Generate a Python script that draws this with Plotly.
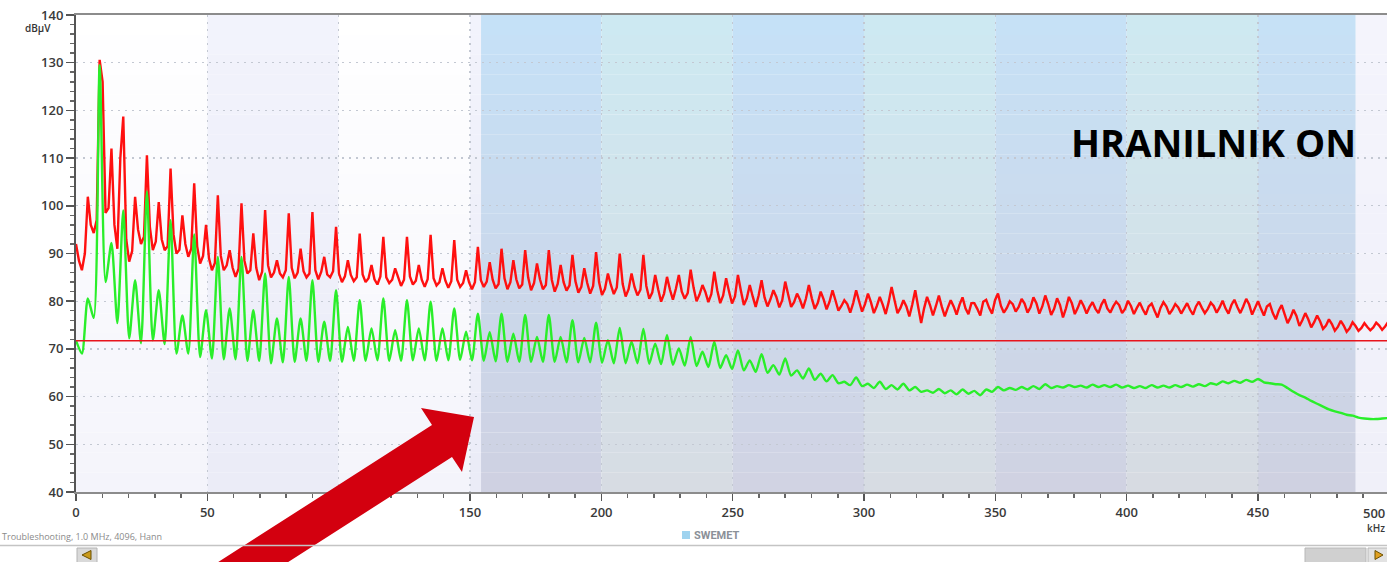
import plotly.graph_objects as go

# ---------------- data ----------------
# Spectrum sampled at every half harmonic of a 4.5 kHz fundamental
HALF_HARMONIC_KHZ = 2.25

green_dbuv = [
    71.8, 69.0, 80.6, 76.5, 129.5, 84.0, 92.2, 75.4, 99.0, 72.2,
    84.4, 71.2, 103.0, 71.8, 82.3, 71.0, 97.0, 69.0, 77.0, 69.0,
    94.0, 68.3, 78.1, 68.0, 89.3, 67.8, 78.5, 67.8, 89.3, 67.5,
    78.1, 67.5, 85.8, 67.0, 76.4, 67.2, 85.1, 67.3, 76.4, 67.5,
    84.4, 67.3, 75.7, 67.5, 82.3, 67.3, 74.6, 67.5, 80.2, 67.5,
    74.3, 67.6, 80.6, 67.5, 73.9, 67.5, 80.2, 67.6, 74.3, 67.6,
    79.9, 67.5, 74.3, 67.6, 78.5, 67.7, 73.6, 67.6, 77.4, 67.5,
    73.5, 67.4, 77.4, 67.3, 73.2, 67.3, 77.1, 67.3, 72.5, 67.3,
    77.1, 67.3, 72.5, 67.2, 76.0, 67.2, 72.3, 67.2, 75.5, 67.1,
    71.8, 67.0, 74.4, 67.0, 71.5, 67.0, 74.2, 66.9, 71.1, 66.8,
    72.9, 66.7, 70.1, 66.5, 72.5, 66.4, 69.4, 66.2, 71.5, 66.0,
    68.7, 65.8, 69.7, 65.5, 67.6, 65.2, 68.9, 65.0, 66.6, 64.6,
    68.0, 64.4, 65.5, 63.8, 65.9, 63.5, 64.8, 63.2, 64.5, 62.8,
    63.1, 62.4, 64.0, 62.2, 62.7, 61.8, 63.1, 61.6, 62.4, 61.5,
    62.7, 61.3, 62.0, 61.0, 61.3, 60.8, 61.6, 60.7, 61.3, 60.5,
    61.5, 60.6, 61.2, 60.3, 61.5, 61.0, 62.0, 61.3, 61.8, 61.4,
    62.0, 61.5, 62.2, 61.6, 62.6, 61.8, 62.2, 61.9, 62.4, 62.0,
    62.3, 61.9, 62.5, 62.0, 62.4, 62.0, 62.5, 61.9, 62.3, 61.8,
    62.2, 61.8, 62.4, 61.9, 62.3, 61.9, 62.4, 62.0, 62.5, 62.1,
    62.6, 62.2, 62.8, 62.5, 63.2, 62.8, 63.3, 62.9, 63.5, 63.1,
    63.7, 63.0, 62.8, 62.6, 62.5, 61.8, 61.0, 60.3, 59.8, 59.1,
    58.5, 57.9, 57.3, 56.9, 56.6, 56.2, 56.0, 55.6, 55.4, 55.3,
    55.3, 55.4, 55.5,
]

# red trace at the half-harmonic points
red_dbuv = [
    92.0, 86.5, 101.9, 94.3, 130.6, 98.5, 112.0, 91.0, 118.7, 88.3,
    101.9, 92.0, 110.6, 90.7, 100.8, 90.7, 107.8, 90.0, 98.0, 89.3,
    104.7, 87.9, 96.0, 86.5, 102.2, 86.5, 90.7, 85.1, 100.5, 85.8,
    94.2, 84.4, 99.1, 85.0, 88.6, 85.0, 98.4, 84.8, 91.0, 85.0,
    98.7, 84.6, 89.3, 85.0, 95.6, 84.0, 88.6, 84.2, 94.2, 84.0,
    87.6, 83.5, 93.5, 83.8, 86.9, 83.2, 93.5, 83.5, 87.6, 83.0,
    93.9, 83.3, 86.9, 82.8, 92.8, 83.0, 86.5, 82.5, 91.4, 83.0,
    88.2, 82.7, 91.0, 82.5, 88.6, 82.7, 90.7, 82.3, 87.9, 82.5,
    90.7, 82.0, 87.6, 82.2, 89.7, 81.8, 86.9, 81.6, 90.3, 81.3,
    85.8, 81.5, 90.0, 81.0, 85.8, 81.2, 89.7, 80.5, 85.5, 79.9,
    85.1, 80.3, 85.5, 80.5, 86.6, 80.0, 83.4, 79.8, 86.2, 79.6,
    84.8, 79.5, 85.5, 79.2, 83.4, 78.8, 84.4, 78.9, 82.3, 78.7,
    84.1, 78.8, 81.6, 78.5, 83.4, 78.4, 82.0, 78.3, 82.3, 78.0,
    80.2, 77.6, 82.3, 77.8, 81.6, 77.5, 80.9, 77.3, 83.0, 77.5,
    80.2, 76.8, 82.3, 75.4, 80.9, 77.0, 81.2, 76.8, 80.2, 77.2,
    80.8, 77.3, 79.6, 77.0, 80.3, 77.4, 81.6, 77.6, 80.0, 77.8,
    80.5, 77.6, 80.8, 77.4, 81.2, 77.1, 80.6, 76.6, 80.9, 77.3,
    80.2, 77.4, 79.8, 77.5, 80.4, 77.6, 79.9, 77.5, 80.1, 77.3,
    79.7, 77.2, 79.5, 76.6, 79.8, 77.3, 79.4, 77.4, 79.6, 77.2,
    79.9, 77.5, 79.7, 77.6, 80.1, 77.4, 80.3, 77.5, 80.5, 77.2,
    80.0, 77.0, 79.4, 76.2, 79.2, 75.4, 78.2, 74.8, 77.5, 74.5,
    77.0, 74.2, 76.2, 73.8, 75.9, 73.6, 75.6, 73.8, 75.4, 73.9,
    75.5, 74.0, 75.6,
]

# red trace at the quarter-harmonic points lying between them
red_between_dbuv = [
    88.5, 90.0, 96.0, 97.0, 126.0, 99.5, 96.0, 110.0, 93.0, 90.5,
    95.0, 93.5, 95.5, 92.5, 93.0, 91.5, 94.0, 90.8, 92.0, 91.0,
    91.5, 89.5, 89.0, 88.0, 89.5, 87.5, 87.0, 86.8, 88.5, 86.5,
    87.0, 86.2, 87.5, 86.0, 85.8, 86.5, 87.0, 86.0, 86.3, 85.8,
    86.5, 86.2, 85.6, 86.3, 85.8, 85.2, 85.5, 85.0, 85.6, 84.8,
    84.6, 85.2, 85.0, 84.5, 84.8, 84.5, 85.2, 84.3, 84.5, 84.6,
    84.8, 84.0, 84.3, 84.2, 84.5, 83.8, 84.0, 84.0, 84.4, 84.1,
    84.5, 83.6, 84.8, 84.0, 84.6, 83.5, 85.0, 83.8, 84.6, 83.4,
    84.5, 83.6, 84.0, 83.3, 84.2, 83.0, 83.8, 83.2, 84.0, 82.6,
    83.4, 82.9, 83.6, 82.5, 83.0, 82.4, 83.2, 81.8, 82.5, 81.6,
    82.4, 82.6, 82.0, 81.7, 82.8, 81.4, 81.9, 81.5, 82.3, 81.2,
    82.0, 81.0, 82.2, 80.6, 81.0, 81.2, 80.8, 80.4, 80.9, 80.2,
    81.4, 79.8, 80.3, 80.5, 80.6, 79.6, 80.4, 79.9, 80.2, 79.0,
    79.4, 79.6, 80.0, 79.4, 79.8, 79.0, 79.3, 79.8, 80.2, 78.6,
    78.9, 79.3, 78.8, 78.5, 79.2, 79.0, 78.8, 78.6, 78.9, 79.3,
    78.5, 79.6, 78.4, 79.9, 78.6, 80.2, 79.0, 78.6, 79.4, 78.8,
    79.5, 78.7, 79.6, 78.9, 79.4, 78.4, 79.2, 78.5, 79.6, 78.6,
    79.0, 78.8, 78.4, 79.3, 78.5, 78.9, 79.2, 78.4, 79.0, 78.6,
    78.3, 78.9, 78.0, 78.6, 78.9, 78.2, 78.7, 78.5, 78.2, 78.9,
    78.6, 78.4, 79.0, 78.7, 78.5, 79.2, 78.8, 78.9, 79.3, 78.6,
    78.4, 78.9, 77.5, 78.0, 77.3, 76.6, 76.9, 76.0, 76.2, 75.6,
    75.8, 74.9, 75.2, 74.6, 74.9, 74.3, 74.8, 74.4, 74.6, 74.5,
    74.9, 74.7,
]

green_khz = [i * HALF_HARMONIC_KHZ for i in range(len(green_dbuv))]
red_khz, red_vals = [], []
for i, v in enumerate(red_dbuv):
    red_khz.append(i * HALF_HARMONIC_KHZ)
    red_vals.append(v)
    if i < len(red_between_dbuv):
        red_khz.append((i + 0.5) * HALF_HARMONIC_KHZ)
        red_vals.append(red_between_dbuv[i])

limit_dbuv = 71.7
x_ticks = [0, 50, 100, 150, 200, 250, 300, 350, 400, 450]
x_tick_text = [str(v) for v in x_ticks]
y_ticks = [40, 50, 60, 70, 80, 90, 100, 110, 120, 130, 140]

# background column bands: (from kHz, to kHz, top colour, bottom colour)
bands = [
    (0, 50, "#ffffff", "#f4f4fb"),
    (50, 100, "#f2f3fc", "#ebecf7"),
    (100, 150, "#ffffff", "#f4f4fb"),
    (150, 154.2, "#f2f3fc", "#ebecf7"),
    (154.2, 200, "#c5e1f7", "#cfd1e2"),
    (200, 250, "#cde9f2", "#d7dce3"),
    (250, 300, "#c5e1f7", "#d1d3e3"),
    (300, 350, "#cde9f2", "#d7dce3"),
    (350, 400, "#c6e1f6", "#d0d2e2"),
    (400, 450, "#cee9f1", "#d7dbe2"),
    (450, 487.2, "#c6e1f6", "#cfd1e1"),
    (487.2, 500, "#f4f4fc", "#f0f0f9"),
]

# ---------------- layout geometry ----------------
W, H = 1387, 562
ML, MR, MT, MB = 76, 0, 15, 70
PW, PH = W - ML - MR, H - MT - MB


def px(xp):
    return (xp - ML) / PW


def py(yp):
    return (H - MB - yp) / PH


def hex2rgb(h):
    h = h.lstrip("#")
    return [int(h[i:i + 2], 16) for i in (0, 2, 4)]


def mix(c1, c2, t):
    a, b = hex2rgb(c1), hex2rgb(c2)
    return "rgb(%d,%d,%d)" % tuple(round(a[i] + (b[i] - a[i]) * t) for i in range(3))


shapes = []
N_STRIPS = 24
for x0, x1, ctop, cbot in bands:
    for s in range(N_STRIPS):
        t = (s + 0.5) / N_STRIPS
        shapes.append(dict(
            type="rect", xref="x", yref="paper", x0=x0, x1=x1,
            y0=1 - (s + 1) / N_STRIPS, y1=1 - s / N_STRIPS,
            fillcolor=mix(ctop, cbot, t), line=dict(width=0), layer="below",
        ))

# big red arrow (annotation graphic)
arrow_pts = [(474, 417), (421, 408), (432, 425), (212, 566), (282, 566),
             (452, 457), (462, 472)]
path = "M " + " L ".join("%.5f %.5f" % (px(a), py(b)) for a, b in arrow_pts) + " Z"
shapes.append(dict(type="path", xref="paper", yref="paper", path=path,
                   fillcolor="#d3000f", line=dict(width=0), layer="above"))

# bottom status / scroll bar decoration
shapes += [
    dict(type="line", xref="paper", yref="paper", x0=px(0), x1=px(W),
         y0=py(545.5), y1=py(545.5), line=dict(color="#c4c4c4", width=1.5)),
    dict(type="rect", xref="paper", yref="paper", x0=px(77), x1=px(97),
         y0=py(563), y1=py(548), fillcolor="#d9d9d9", line=dict(color="#b4b4b4", width=1)),
    dict(type="path", xref="paper", yref="paper",
         path="M %f %f L %f %f L %f %f Z" % (px(82), py(555), px(91), py(550.5), px(91), py(559.5)),
         fillcolor="#c99a1c", line=dict(color="#6b5000", width=1)),
    dict(type="rect", xref="paper", yref="paper", x0=px(1305), x1=px(1366),
         y0=py(563), y1=py(548), fillcolor="#d0d0d0", line=dict(color="#b8b8b8", width=1)),
    dict(type="rect", xref="paper", yref="paper", x0=px(1368), x1=px(1388),
         y0=py(563), y1=py(548), fillcolor="#e2e2e2", line=dict(color="#b8b8b8", width=1)),
    dict(type="path", xref="paper", yref="paper",
         path="M %f %f L %f %f L %f %f Z" % (px(1383), py(555), px(1375), py(550.5), px(1375), py(559.5)),
         fillcolor="#e0a020", line=dict(color="#6b5000", width=1)),
    dict(type="rect", xref="paper", yref="paper", x0=px(682), x1=px(690),
         y0=py(539), y1=py(531), fillcolor="#9fd3ef", line=dict(width=0)),
]

fig = go.Figure()
fig.add_trace(go.Scatter(x=red_khz, y=red_vals, mode="lines",
                         line=dict(color="#ff1010", width=2.4), hoverinfo="skip"))
fig.add_trace(go.Scatter(x=green_khz, y=green_dbuv, mode="lines",
                         line=dict(color="#2aee2a", width=2.4, shape="spline", smoothing=0.7),
                         hoverinfo="skip"))
fig.add_trace(go.Scatter(x=[0, 500], y=[limit_dbuv, limit_dbuv], mode="lines",
                         line=dict(color="#e8141c", width=1.6), hoverinfo="skip"))

tickfont = dict(family="Open Sans", size=13, color="#3a3a3a", weight=600)

annotations = [
    dict(text="dBµV", xref="paper", yref="paper", x=px(23), y=py(19),
         showarrow=False, font=dict(family="Open Sans", size=10, color="#333", weight=600)),
    dict(text="HRANILNIK ON", xref="paper", yref="paper", x=px(1358), y=py(142),
         xanchor="right", yanchor="middle", showarrow=False,
         font=dict(family="Open Sans", size=38, color="#000000", weight=700)),
    dict(text="500", xref="paper", yref="paper", x=px(1387), y=py(513),
         xanchor="right", yanchor="middle", showarrow=False, font=tickfont),
    dict(text="kHz", xref="paper", yref="paper", x=px(1387), y=py(528),
         xanchor="right", yanchor="middle", showarrow=False,
         font=dict(family="Open Sans", size=10, color="#3a3a3a", weight=600)),
    dict(text="Troubleshooting, 1.0 MHz, 4096, Hann", xref="paper", yref="paper",
         x=px(0), y=py(536), xanchor="left", yanchor="middle", showarrow=False,
         font=dict(family="Open Sans", size=9, color="#8a8a8a")),
    dict(text="SWEMET", xref="paper", yref="paper", x=px(692), y=py(535.5),
         xanchor="left", yanchor="middle", showarrow=False,
         font=dict(family="Roboto", size=11, color="#8b9098", weight=700)),
]

fig.update_layout(
    width=W, height=H, autosize=False,
    margin=dict(l=ML, r=MR, t=MT, b=MB, pad=0),
    paper_bgcolor="#ffffff", plot_bgcolor="#ffffff",
    showlegend=False, shapes=shapes, annotations=annotations,
    xaxis=dict(range=[0, 499.1], tickmode="array", tickvals=x_ticks, ticktext=x_tick_text,
               ticks="outside", ticklen=7, tickwidth=1.5, tickcolor="#555",
               minor=dict(dtick=10, tick0=0, ticks="outside", ticklen=4, tickcolor="#666", showgrid=False),
               showline=True, linecolor="#8c8c8c", linewidth=2, mirror=True,
               showgrid=True, gridcolor="#c3c8d2", griddash="2px,5px", gridwidth=1.3,
               zeroline=False, tickfont=tickfont),
    yaxis=dict(range=[40, 140], tickmode="array", tickvals=y_ticks,
               ticks="outside", ticklen=8, tickwidth=1.5, tickcolor="#555",
               minor=dict(dtick=2, tick0=40, ticks="outside", ticklen=4, tickcolor="#666", showgrid=False),
               showline=True, linecolor="#555", linewidth=2,
               showgrid=True, gridcolor="#c3c8d2", griddash="2px,5px", gridwidth=1.3,
               zeroline=False, tickfont=tickfont),
)

fig.write_html(
    "out.html",
    config={"displayModeBar": False, "staticPlot": True},
    post_script="document.body.style.margin='0';document.body.style.overflow='hidden';",
)
